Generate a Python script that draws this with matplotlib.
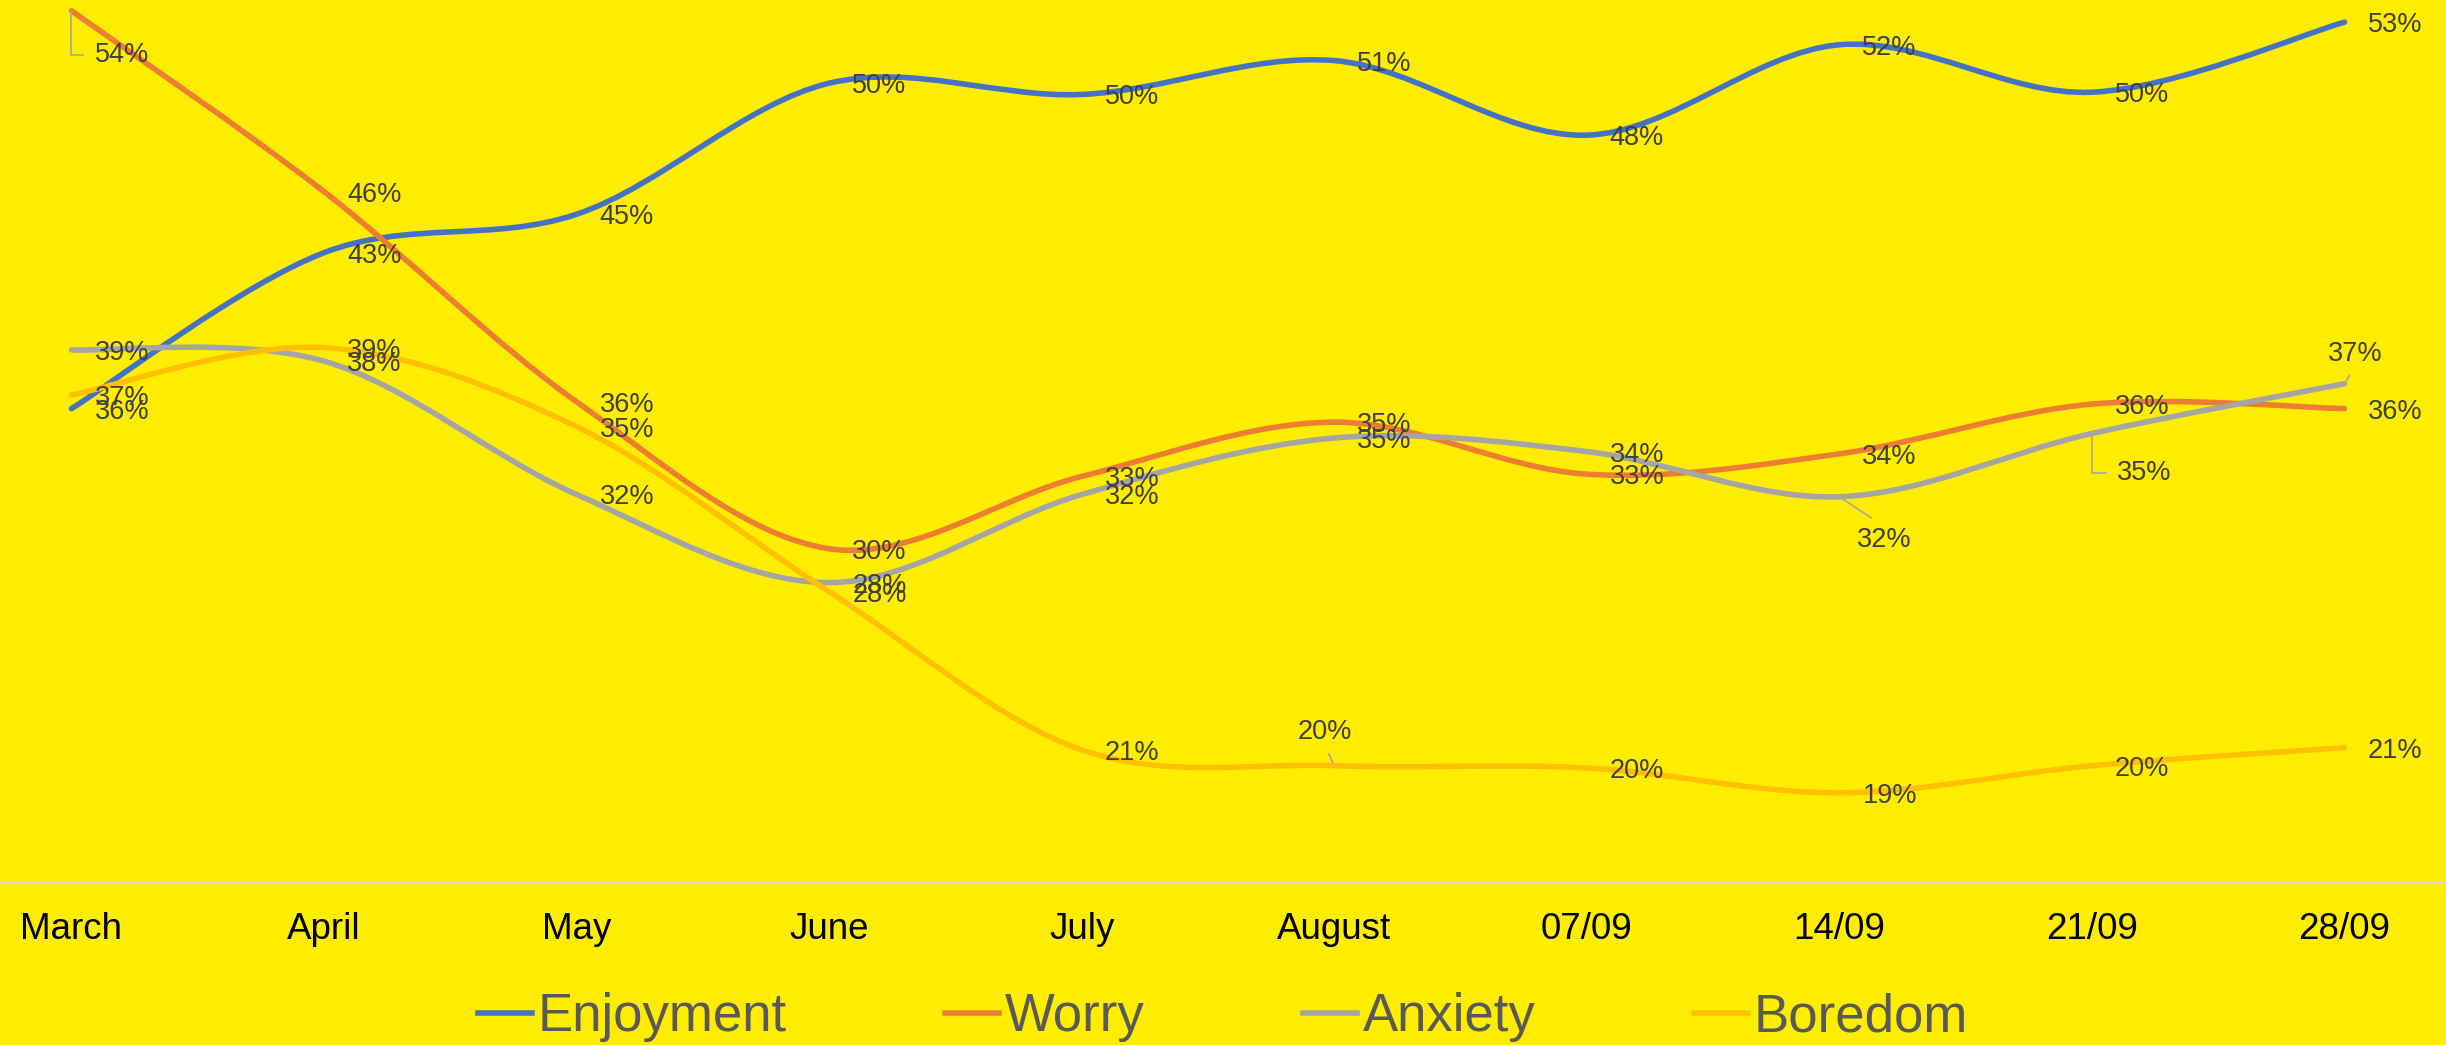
import matplotlib
matplotlib.use('Agg')
import matplotlib.pyplot as plt
from matplotlib.path import Path
from matplotlib.patches import PathPatch
from matplotlib.lines import Line2D

plt.rcParams['font.family'] = ['Liberation Sans', 'DejaVu Sans']

# data (percent)
months = ['March', 'April', 'May', 'June', 'July', 'August', '07/09', '14/09', '21/09', '28/09']
enjoyment = [36.0, 42.9, 44.6, 50.4, 49.9, 51.4, 48.1, 52.1, 50.0, 53.1]
worry = [53.6, 45.6, 36.3, 29.8, 33.0, 35.4, 33.1, 34.0, 36.2, 36.0]
anxiety = [38.6, 38.1, 32.2, 28.3, 32.2, 34.7, 34.1, 32.1, 34.9, 37.1]
boredom = [36.6, 38.7, 35.2, 27.9, 20.9, 20.2, 20.1, 19.0, 20.2, 21.0]

series_names = ['Enjoyment', 'Worry', 'Anxiety', 'Boredom']
series_values = [enjoyment, worry, anxiety, boredom]
colors = ['#4472C4', '#ED7D31', '#A5A5A5', '#FFC000']

BG = '#FFED00'
LABEL_COLOR = '#404040'
LEADER_COLOR = '#A6A6A6'

# labels moved by hand in the original (series index, point index) -> dx, dy px, leader kind
moved = {
    (1, 0): (23, -41, 'elbow'),
    (3, 5): (-37, 37, 'up'),
    (2, 7): (18, -40, 'down'),
    (2, 8): (25, -37, 'elbow'),
    (2, 9): (-17, 33, 'up'),
}


def smooth_path(xs, ys):
    # Excel style smoothed line: bezier segments with catmull-rom control points
    pts = list(zip(xs, ys))
    n = len(pts)
    verts = [pts[0]]
    codes = [Path.MOVETO]
    for i in range(n - 1):
        p0 = pts[i - 1] if i > 0 else pts[i]
        p1 = pts[i]
        p2 = pts[i + 1]
        p3 = pts[i + 2] if i + 2 < n else pts[i + 1]
        c1 = (p1[0] + (p2[0] - p0[0]) / 6, p1[1] + (p2[1] - p0[1]) / 6)
        c2 = (p2[0] - (p3[0] - p1[0]) / 6, p2[1] - (p3[1] - p1[1]) / 6)
        verts += [c1, c2, p2]
        codes += [Path.CURVE4] * 3
    return Path(verts, codes)


fig = plt.figure(figsize=(24.46, 10.45), dpi=100)
fig.patch.set_facecolor(BG)
ax = fig.add_axes([0, 162 / 1045, 1, 883 / 1045])
ax.set_facecolor(BG)

x = list(range(len(months)))
for vals, c in zip(series_values, colors):
    patch = PathPatch(smooth_path(x, vals), facecolor='none', edgecolor=c, lw=4,
                      capstyle='round', joinstyle='round', clip_on=False)
    ax.add_patch(patch)

for si, vals in enumerate(series_values):
    for i, v in enumerate(vals):
        dx, dy, kind = moved.get((si, i), (23, 0, None))
        kw = dict(xy=(i, v), xytext=(dx, dy), textcoords='offset pixels',
                  ha='left', va='center_baseline', fontsize=19.5, color=LABEL_COLOR, zorder=5)
        if kind == 'elbow':
            kw['arrowprops'] = dict(arrowstyle='-', color=LEADER_COLOR, lw=1.2,
                                    connectionstyle='angle,angleA=0,angleB=90,rad=0',
                                    relpos=(0, 0.5), shrinkA=6, shrinkB=0)
        elif kind == 'up':
            kw['arrowprops'] = dict(arrowstyle='-', color=LEADER_COLOR, lw=1.2,
                                    relpos=(0.5, 0), shrinkA=5, shrinkB=2)
        elif kind == 'down':
            kw['arrowprops'] = dict(arrowstyle='-', color=LEADER_COLOR, lw=1.2,
                                    relpos=(0.5, 1), shrinkA=8, shrinkB=3)
        ax.annotate(f'{v:.0f}%', **kw)

ax.set_xlim(-71.5 / 252.56, 9 + (2446 - 2344.5) / 252.56)
ax.set_ylim(15.01, 54.08)
ax.set_yticks([])
ax.set_xticks(x)
ax.set_xticklabels(months, fontsize=26.5, color='black')
ax.tick_params(axis='x', length=0, pad=21)
for s in ['top', 'left', 'right']:
    ax.spines[s].set_visible(False)
ax.spines['bottom'].set_color('#D9D9D9')
ax.spines['bottom'].set_linewidth(1.6)

handles = [Line2D([], [], color=c, lw=4) for c in colors]
leg = fig.legend(handles, series_names, loc='center', bbox_to_anchor=(0.5, 28 / 1045),
                 ncol=4, frameon=False, fontsize=38, handlelength=1.02,
                 handletextpad=0.11, columnspacing=3.0, borderpad=0, borderaxespad=0)
for t in leg.get_texts():
    t.set_color('#595959')

fig.savefig('out.png', dpi=100, facecolor=BG)
